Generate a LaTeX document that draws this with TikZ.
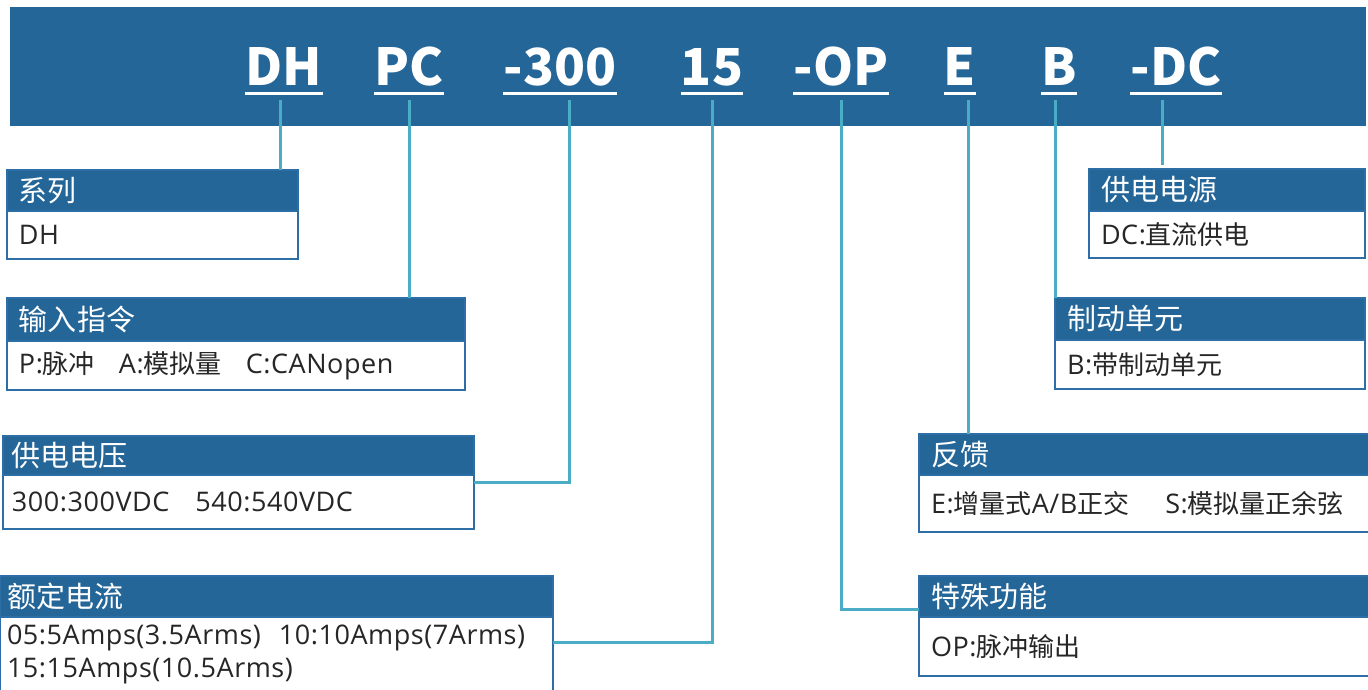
\documentclass[tikz,border=0pt]{standalone}
\usepackage{fontspec}
\setmainfont[LetterSpace=2]{Open Sans}
\newfontfamily\cjk{Noto Sans CJK SC}
\definecolor{bannerblue}{HTML}{256699}
\definecolor{frameblue}{HTML}{2E6EA6}
\definecolor{linkteal}{HTML}{4BACC6}
\newcommand\zh[1]{{\cjk\fontsize{26}{33}\selectfont #1}}
\tikzset{
  banner/.style={fill=bannerblue, anchor=north west, inner sep=0pt, minimum width=1356pt, minimum height=119pt},
  code/.style={text=white, font=\cjk\bfseries\fontsize{51}{51}\selectfont, inner sep=0pt, anchor=base},
  uline/.style={draw=white, line width=3pt},
  head/.style={fill=bannerblue, draw=frameblue, line width=2.5pt, outer sep=0pt, anchor=north west,
    inner xsep=12pt, inner ysep=0pt, align=left, text=white, font=\cjk\fontsize{29}{29}\selectfont},
  body/.style={fill=white, draw=frameblue, line width=2.5pt, outer sep=0pt, anchor=north west,
    inner xsep=12pt, inner ysep=0pt, align=left, text=black!85, font=\fontsize{27}{33}\selectfont},
  link/.style={draw=linkteal, line width=3pt}
}
\begin{document}
\begin{tikzpicture}[x=1pt,y=-1pt]
\useasboundingbox (0,0) rectangle (1368,690);

% model code banner
\node[banner] (band) at (10,7) {};
\node[code, minimum width=76pt] (dh) at (284,86) {DH};
\node[code, minimum width=66pt] (pc) at (409,86) {PC};
\node[code, minimum width=114pt] (v300) at (560,86) {-300};
\node[code, minimum width=60pt] (i15) at (712,86) {15};
\node[code, minimum width=92pt] (op) at (841,86) {-OP};
\node[code, minimum width=30pt] (fb) at (960,86) {E};
\node[code, minimum width=33pt] (br) at (1059,86) {B};
\node[code, minimum width=92pt] (dc) at (1176,86) {-DC};

\draw[uline] ([yshift=-8pt]dh.base west) -- ([yshift=-8pt]dh.base east);
\draw[uline] ([yshift=-8pt]pc.base west) -- ([yshift=-8pt]pc.base east);
\draw[uline] ([yshift=-8pt]v300.base west) -- ([yshift=-8pt]v300.base east);
\draw[uline] ([yshift=-8pt]i15.base west) -- ([yshift=-8pt]i15.base east);
\draw[uline] ([yshift=-8pt]op.base west) -- ([yshift=-8pt]op.base east);
\draw[uline] ([yshift=-8pt]fb.base west) -- ([yshift=-8pt]fb.base east);
\draw[uline] ([yshift=-8pt]br.base west) -- ([yshift=-8pt]br.base east);
\draw[uline] ([yshift=-8pt]dc.base west) -- ([yshift=-8pt]dc.base east);

% left column
\node[head, text width=267pt, minimum height=41pt] (xlh) at (7,170) {系列};
\node[body, text width=267pt, minimum height=48pt] (xlb) at (xlh.south west) {DH};

\node[head, text width=434pt, minimum height=43pt] (srh) at (7,298) {输入指令};
\node[body, text width=434pt, minimum height=49pt] (srb) at (srh.south west)
  {P:\zh{脉冲}\hspace{24pt}A:\zh{模拟量}\hspace{24pt}C:CANopen};

\node[head, inner xsep=9pt, text width=453pt, minimum height=39pt] (gdyh) at (3,436) {供电电压};
\node[body, inner xsep=9pt, text width=453pt, minimum height=54pt] (gdyb) at (gdyh.south west)
  {300:300VDC\hspace{26pt}540:540VDC};

\node[head, inner xsep=8pt, text width=537pt, minimum height=41pt] (edh) at (0,576) {额定电流};
\node[body, inner xsep=7pt, text width=539pt, minimum height=75pt] (edb) at (edh.south west)
  {05:5Amps(3.5Arms)\hspace{18pt}10:10Amps(7Arms)\\15:15Amps(10.5Arms)};

% right column
\node[head, text width=252pt, minimum height=42pt] (gyh) at (1089,169) {供电电源};
\node[body, text width=252pt, minimum height=47pt] (gyb) at (gyh.south west) {DC:\zh{直流供电}};

\node[head, text width=286pt, minimum height=42pt] (zdh) at (1055,298) {制动单元};
\node[body, text width=286pt, minimum height=49pt] (zdb) at (zdh.south west) {B:\zh{带制动单元}};

\node[head, text width=428pt, minimum height=41pt] (fkh) at (919,434) {反馈};
\node[body, text width=428pt, minimum height=57pt] (fkb) at (fkh.south west)
  {E:\zh{增量式}A/B\zh{正交}\hspace{36pt}S:\zh{模拟量正余弦}};

\node[head, text width=428pt, minimum height=41pt] (tsh) at (919,576) {特殊功能};
\node[body, text width=428pt, minimum height=59pt] (tsb) at (tsh.south west) {OP:\zh{脉冲输出}};

% connectors
\draw[link] ([xshift=-4pt,yshift=-14pt]dh.base) -- ([xshift=-4pt]dh.base |- xlh.north);
\draw[link] ([yshift=-14pt]pc.base) -- (pc.base |- srh.north);
\draw[link] ([xshift=9pt,yshift=-14pt]v300.base) |- ([yshift=20pt]gdyb.east);
\draw[link] ([yshift=-14pt]i15.base) |- ([yshift=12pt]edb.east);
\draw[link] ([yshift=-14pt]op.base) |- ([yshift=-13pt]tsh.west);
\draw[link] ([xshift=8pt,yshift=-14pt]fb.base) -- ([xshift=8pt]fb.base |- fkh.north);
\draw[link] ([xshift=-4pt,yshift=-14pt]br.base) -- ([xshift=-4pt]br.base |- zdh.north);
\draw[link] ([xshift=-14pt,yshift=-14pt]dc.base) -- ([xshift=-14pt,yshift=4pt]dc.base |- gyh.north);
\end{tikzpicture}
\end{document}
